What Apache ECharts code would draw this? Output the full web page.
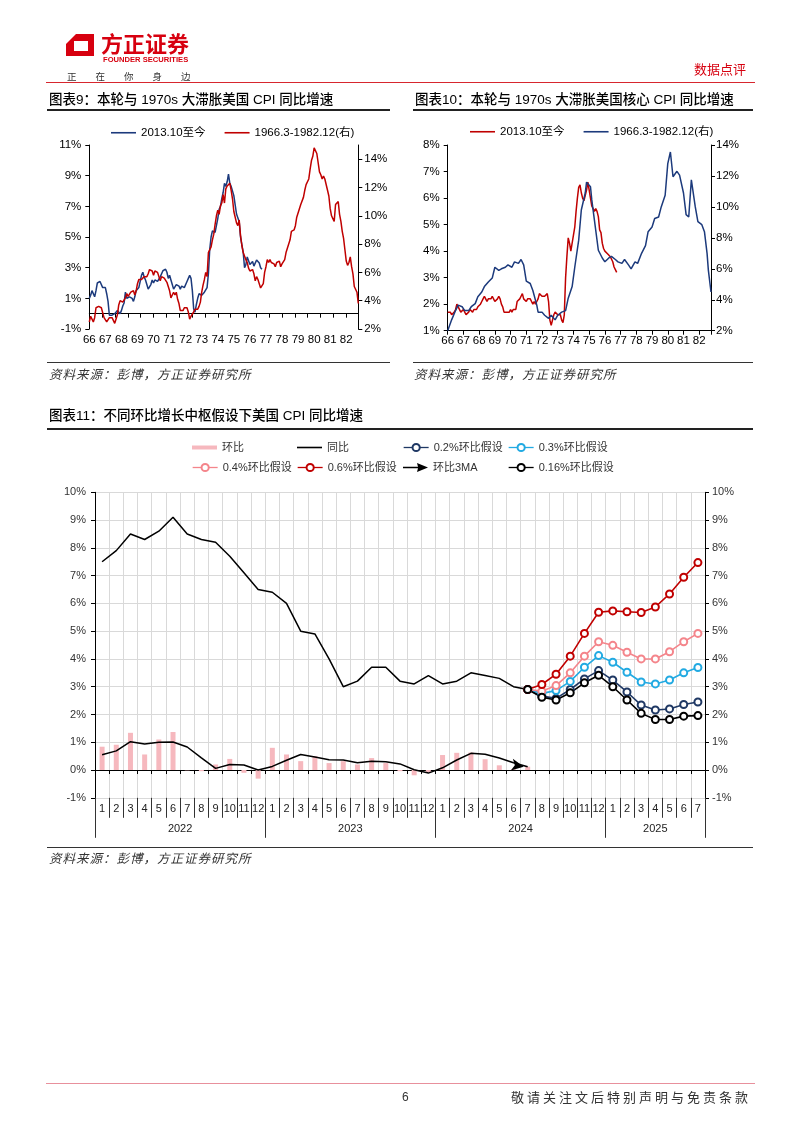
<!DOCTYPE html>
<html><head><meta charset="utf-8">
<script src="https://cdn.jsdelivr.net/npm/echarts@6/dist/echarts.min.js"></script>
<style>
html,body{margin:0;padding:0;background:#fff;}
#page{position:relative;width:802px;height:1133px;overflow:hidden;background:#fff;font-family:"Liberation Sans","Noto Sans CJK SC",sans-serif;}
#chart{position:absolute;left:0;top:0;width:802px;height:1133px;}
.t{position:absolute;white-space:nowrap;line-height:1;}
.hl{position:absolute;height:0;}
.title{font-size:13.5px;color:#000;font-weight:500;}
.src{font-size:12.5px;color:#333;font-style:italic;letter-spacing:1px;}
</style></head>
<body><div id="page">
<div id="chart"></div>
<svg class="t" style="left:0;top:0" width="120" height="70">
  <polygon points="66,56 66,44 76,34 94,34 94,56" fill="#D7000F"/>
  <polygon points="74,41 88,41 88,51 74,51" fill="#fff"/>
</svg>
<div class="t" style="left:101px;top:31px;font-size:22px;font-weight:bold;color:#D7000F;font-family:'Noto Sans CJK SC'">方正证券</div>
<div class="t" style="left:103px;top:55.5px;font-size:7.6px;font-weight:bold;color:#D7000F">FOUNDER SECURITIES</div>
<div class="t" style="left:67px;top:71.5px;font-size:9.5px;color:#333;letter-spacing:19px">正在你身边</div>
<div class="t" style="left:694px;top:63px;font-size:13px;color:#D7000F">数据点评</div>
<div class="hl" style="left:46px;top:82px;width:709px;border-top:1px solid #D7262E"></div>

<div class="t title" style="left:49px;top:93px">图表9：本轮与 1970s 大滞胀美国 CPI 同比增速</div>
<div class="hl" style="left:47px;top:108.5px;width:343px;border-top:2px solid #222"></div>
<div class="t title" style="left:415px;top:93px">图表10：本轮与 1970s 大滞胀美国核心 CPI 同比增速</div>
<div class="hl" style="left:413px;top:108.5px;width:340px;border-top:2px solid #222"></div>
<div class="hl" style="left:47px;top:362px;width:343px;border-top:1px solid #333"></div>
<div class="hl" style="left:413px;top:362px;width:340px;border-top:1px solid #333"></div>
<div class="t src" style="left:49px;top:369px">资料来源：彭博，方正证券研究所</div>
<div class="t src" style="left:414px;top:369px">资料来源：彭博，方正证券研究所</div>

<div class="t title" style="left:49px;top:409px">图表11：不同环比增长中枢假设下美国 CPI 同比增速</div>
<div class="hl" style="left:47px;top:427.5px;width:706px;border-top:2px solid #222"></div>
<div class="hl" style="left:47px;top:847px;width:706px;border-top:1px solid #333"></div>
<div class="t src" style="left:49px;top:853px">资料来源：彭博，方正证券研究所</div>

<div class="hl" style="left:46px;top:1083px;width:709px;border-top:1px solid #E8909C"></div>
<div class="t" style="left:402px;top:1091px;font-size:12px;color:#333">6</div>
<div class="t" style="left:511px;top:1090px;font-size:13px;color:#333;letter-spacing:3px;font-family:'Noto Sans CJK SC'">敬请关注文后特别声明与免责条款</div>
</div>
<script>
// ---------- Chart 9 / 10 data ----------
const histYearLabels = ['66','67','68','69','70','71','72','73','74','75','76','77','78','79','80','81','82'];
const names9 = ['2013.10至今', '1966.3-1982.12(右)'];
const names10 = {core2013: '2013.10至今', core1966: '1966.3-1982.12(右)'};

// US CPI YoY, 1966.3 - 1982.12 (monthly)
const cpiHist = [
  2.5,2.9,2.9,2.5,2.8,3.5,3.5,3.6,3.6,3.5,
  3.4,2.8,2.8,2.5,2.5,2.8,2.8,2.8,2.8,2.4,2.7,3.0,
  3.7,4.0,4.0,3.9,3.9,4.2,4.5,4.3,4.4,4.6,4.6,4.7,
  4.4,4.7,5.2,5.5,5.5,5.5,5.4,5.7,5.7,5.7,5.9,6.2,
  6.2,6.1,5.8,6.1,6.1,6.0,6.0,5.4,5.7,5.6,5.6,5.6,
  5.3,5.0,4.7,4.2,4.4,4.6,4.4,4.6,4.1,3.8,3.3,3.3,
  3.3,3.5,3.5,3.5,3.2,2.7,2.9,2.9,3.2,3.4,3.4,3.4,
  3.6,3.9,4.6,5.1,5.5,6.0,5.7,7.4,7.4,7.8,8.3,8.7,
  9.4,10.0,10.4,10.1,10.7,10.9,11.5,10.9,11.9,12.1,12.2,12.3,
  11.8,11.2,10.3,10.2,9.5,9.3,9.7,8.6,7.9,7.4,7.4,6.9,
  6.7,6.3,6.1,6.0,6.2,5.9,5.4,5.7,5.5,5.5,4.9,4.9,
  5.2,6.0,6.4,6.9,6.7,6.9,6.7,6.6,6.6,6.4,6.7,6.7,
  6.8,6.4,6.6,6.5,6.9,7.4,7.7,7.8,8.3,8.9,8.9,9.0,
  9.3,9.9,10.2,10.5,10.8,10.9,11.3,11.8,12.2,12.1,12.6,13.3,
  13.9,14.2,14.8,14.7,14.4,14.4,13.1,12.9,12.6,12.8,12.6,12.5,
  11.8,11.4,10.5,10.0,9.8,9.6,10.8,10.8,11.0,10.1,9.6,8.9,
  8.4,7.6,6.8,6.5,6.7,7.1,6.4,5.9,5.0,5.1,4.6,3.8
];
// US CPI YoY, 2013.10 - 2024.7 (monthly)
const cpiRecent = [
  1.0,1.2,1.5,
  1.6,1.1,1.5,2.0,2.1,2.1,2.0,1.7,1.7,1.7,1.3,0.8,
  -0.1,0.0,-0.1,-0.2,0.0,0.1,0.2,0.2,0.0,0.2,0.5,0.7,
  1.4,1.0,0.9,1.1,1.0,1.0,0.8,1.1,1.5,1.6,1.7,2.1,
  2.5,2.7,2.4,2.2,1.9,1.6,1.7,1.9,2.2,2.0,2.2,2.1,
  2.1,2.2,2.4,2.5,2.8,2.9,2.9,2.7,2.3,2.5,2.2,1.9,
  1.6,1.5,1.9,2.0,1.8,1.6,1.8,1.7,1.7,1.8,2.1,2.3,
  2.5,2.3,1.5,0.3,0.1,0.6,1.0,1.3,1.4,1.2,1.2,1.4,
  1.4,1.7,2.6,4.2,5.0,5.4,5.4,5.3,5.4,6.2,6.8,7.0,
  7.5,7.9,8.5,8.3,8.6,9.1,8.5,8.3,8.2,7.7,7.1,6.5,
  6.4,6.0,5.0,4.9,4.0,3.0,3.2,3.7,3.7,3.2,3.1,3.4,
  3.1,3.2,3.5,3.4,3.3,3.0,2.9
];
// US core CPI YoY, 2013.10 - 2024.7 (monthly)
const coreRecent = [
  1.7,1.7,1.7,
  1.6,1.6,1.7,1.8,2.0,1.9,1.9,1.7,1.7,1.8,1.7,1.6,
  1.6,1.7,1.8,1.8,1.7,1.8,1.8,1.8,1.9,1.9,2.0,2.1,
  2.2,2.3,2.2,2.1,2.2,2.2,2.2,2.3,2.2,2.1,2.1,2.2,
  2.3,2.2,2.0,1.9,1.7,1.7,1.7,1.7,1.7,1.8,1.7,1.8,
  1.8,1.8,2.1,2.1,2.2,2.3,2.4,2.2,2.2,2.1,2.2,2.2,
  2.2,2.1,2.0,2.1,2.0,2.1,2.2,2.4,2.4,2.3,2.3,2.3,
  2.3,2.4,2.1,1.4,1.2,1.2,1.6,1.7,1.7,1.6,1.6,1.6,
  1.4,1.3,1.6,3.0,3.8,4.5,4.3,4.0,4.0,4.6,4.9,5.5,
  6.0,6.4,6.5,6.2,6.0,5.9,5.9,6.3,6.6,6.3,6.0,5.7,
  5.6,5.5,5.6,5.5,5.3,4.8,4.7,4.3,4.1,4.0,4.0,3.9,
  3.9,3.8,3.8,3.6,3.4,3.3,3.2
];
// US core CPI YoY 1966.3 - 1982.12, read as [month index, value]
const coreHistPoints = [
  [0,2.0],[3,2.7],[6,3.3],[8,3.65],[11,3.55],[13,3.3],[16,3.3],[18,3.55],[21,3.75],[23,4.2],
  [26,4.5],[28,4.85],[31,5.15],[34,5.4],[36,6.1],[39,5.9],[41,6.0],[44,6.1],[46,6.25],[49,6.1],
  [51,6.45],[54,6.35],[56,6.6],[58,6.25],[60,5.2],[63,5.05],[65,4.6],[68,3.65],[69,3.2],[72,3.2],
  [74,3.0],[77,2.8],[79,3.0],[82,2.7],[84,3.0],[87,3.2],[90,3.3],[92,4.1],[95,4.85],[97,6.1],
  [100,7.85],[102,9.8],[105,10.9],[106,11.6],[107,11.5],[109,11.3],[110,10.45],[112,9.15],[115,7.2],[118,6.7],
  [120,6.45],[123,6.7],[125,6.8],[128,6.6],[130,6.45],[133,6.35],[135,6.6],[138,6.25],[140,6.0],[143,6.45],
  [145,6.35],[148,7.0],[151,7.5],[153,8.4],[156,8.7],[158,9.25],[161,9.35],[163,10.0],[166,10.75],[168,12.8],
  [170,13.55],[172,11.95],[175,12.3],[177,12.05],[180,10.9],[182,9.5],[184,9.35],[186,11.75],[187,11.85],[189,10.0],
  [191,9.05],[194,8.85],[196,8.4],[198,7.0],[199,5.9],[201,4.5]
];

// ---------- Chart 11 data ----------
const years = ['2022','2023','2024','2025'];
const monthsPerYear = [12,12,12,7];
const momNSA = [0.84,0.91,1.34,0.56,1.10,1.37,-0.01,-0.04,0.20,0.40,-0.10,-0.31,
                0.80,0.56,0.32,0.50,0.25,0.32,0.20,0.43,0.25,-0.04,-0.19,-0.10,
                0.54,0.62,0.63,0.39,0.17,0.03,0.12];
const yoy = [7.5,7.9,8.5,8.3,8.6,9.1,8.5,8.3,8.2,7.7,7.1,6.5,
             6.4,6.0,5.0,4.9,4.0,3.0,3.2,3.7,3.7,3.2,3.1,3.4,
             3.1,3.2,3.5,3.4,3.3,3.0,2.9];
const mom3ma = [0.55,0.69,1.02,0.94,1.00,1.01,0.83,0.44,0.06,0.20,0.18,0.00,
                0.13,0.35,0.56,0.47,0.37,0.36,0.26,0.32,0.30,0.22,0.01,-0.11,
                0.08,0.36,0.60,0.57,0.43,0.26,0.12];
const sc02  = [2.66,2.58,2.90,3.28,3.58,3.24,2.81,2.34,2.16,2.20,2.36,2.45];
const sc03  = [2.76,2.86,3.19,3.70,4.12,3.88,3.52,3.17,3.10,3.24,3.50,3.69];
const sc04  = [2.84,3.04,3.50,4.10,4.62,4.49,4.24,4.00,4.00,4.26,4.62,4.92];
const sc06  = [3.08,3.45,4.10,4.92,5.68,5.73,5.70,5.67,5.87,6.34,6.94,7.47];
const sc016 = [2.62,2.52,2.78,3.14,3.41,3.00,2.52,2.04,1.82,1.82,1.94,1.96];

// ---------- build ----------
const FONT = '"Liberation Sans","Noto Sans CJK SC",sans-serif';
const NAVY = '#1C3A7C', RED = '#C00000';
const idxPairs = arr => arr.map((v, i) => [i, v]);
const histMax = cpiHist.length - 1;

const categories = [];
years.forEach((y, k) => { for (let m = 1; m <= monthsPerYear[k]; m++) categories.push(y + '-' + m); });
const monthLabels = categories.map(c => c.split('-')[1]);
const yearGroups = [];
(function(){ let s = 0; years.forEach((y, k) => { yearGroups.push({label: y, center: s + monthsPerYear[k] / 2}); s += monthsPerYear[k]; }); })();
const nCat = categories.length;
const startIdx = yoy.length - 1;
const pad = new Array(startIdx).fill(null);

function histLabel(v) { return (v % 12 === 0 && histYearLabels[v / 12] !== undefined) ? histYearLabels[v / 12] : ''; }

const axisBlack = {show: true, onZero: false, lineStyle: {color: '#000', width: 1}};
function yAx(grid, pos, min, max, interval, margin, fs, color, split) {
  return {
    type: 'value', gridIndex: grid, position: pos, min, max, interval,
    axisLine: axisBlack,
    axisTick: {show: true, length: 4, lineStyle: {color: '#000'}},
    axisLabel: {formatter: '{value}%', fontSize: fs, color, margin, fontFamily: FONT, showMaxLabel: max === 15 ? false : true},
    splitLine: split ? {show: true, lineStyle: {color: '#D9D9D9', width: 1}} : {show: false}
  };
}

const lineIcon = 'path://M0,0H25V1.6H0Z';
const arrowIcon = 'path://M0,4.3L15,4.3L14,0.5L25,5L14,9.5L15,5.7L0,5.7Z';
const lg11 = (name, left, top, extra) => Object.assign({
  show: true, left, top, data: [name], itemWidth: 25, itemHeight: 9, selectedMode: false,
  textStyle: {fontSize: 11, color: '#333', fontFamily: FONT}, padding: 0,
  lineStyle: {width: 1.3}
}, extra || {});

function scenario(name, vals, color) {
  return {
    name, type: 'line', xAxisIndex: 3, yAxisIndex: 4,
    data: pad.concat([yoy[startIdx]], vals),
    symbol: 'emptyCircle', symbolSize: 7, showAllSymbol: true,
    lineStyle: {width: 1.6, color}, itemStyle: {color, borderWidth: 1.6}
  };
}

const option = {
  animation: false,
  backgroundColor: 'transparent',
  textStyle: {fontFamily: FONT},
  grid: [
    {left: 89.3, top: 145, width: 269, height: 184, containLabel: false, outerBoundsMode: 'none'},
    {left: 447.7, top: 145, width: 263.3, height: 185.7, containLabel: false, outerBoundsMode: 'none'},
    {left: 95, top: 492.3, width: 610, height: 305.5, containLabel: false, outerBoundsMode: 'none'}
  ],
  legend: [
    {left: 111, top: 127, data: names9, itemWidth: 25, itemHeight: 1.6, icon: lineIcon, itemGap: 19, selectedMode: false, padding: 0,
     textStyle: {fontSize: 11.5, color: '#000', fontFamily: FONT}},
    {left: 470, top: 126, data: ['core2013', 'core1966'], formatter: n => names10[n], itemWidth: 25, itemHeight: 1.6, icon: lineIcon, itemGap: 19, selectedMode: false, padding: 0,
     textStyle: {fontSize: 11.5, color: '#000', fontFamily: FONT}},
    lg11('环比', 192, 442, {icon: 'rect', itemHeight: 4}),
    lg11('同比', 297, 442, {icon: lineIcon, itemHeight: 1.6}),
    lg11('0.2%环比假设', 403, 442),
    lg11('0.3%环比假设', 508, 442),
    lg11('0.4%环比假设', 192, 462),
    lg11('0.6%环比假设', 297, 462),
    lg11('环比3MA', 403, 462, {icon: arrowIcon, itemHeight: 9}),
    lg11('0.16%环比假设', 508, 462)
  ],
  xAxis: [
    {type: 'value', gridIndex: 0, min: 0, max: histMax, interval: 9.6, position: 'bottom',
     axisLine: {show: true, onZero: true, lineStyle: {color: '#000'}},
     axisTick: {show: true, length: 4, lineStyle: {color: '#000'}},
     axisLabel: {show: false}, splitLine: {show: false}},
    {type: 'value', gridIndex: 0, min: 0, max: histMax, interval: 12, position: 'bottom',
     axisLine: {show: false, onZero: false}, axisTick: {show: false},
     axisLabel: {formatter: histLabel, fontSize: 11.5, color: '#000', margin: 5, fontFamily: FONT},
     splitLine: {show: false}},
    {type: 'value', gridIndex: 1, min: 0, max: histMax, interval: 12, position: 'bottom',
     axisLine: axisBlack, axisTick: {show: true, length: 4, lineStyle: {color: '#000'}},
     axisLabel: {formatter: histLabel, fontSize: 11.5, color: '#000', margin: 4, fontFamily: FONT},
     splitLine: {show: false}},
    {type: 'category', gridIndex: 2, data: categories, boundaryGap: true, position: 'bottom',
     axisLine: {show: true, onZero: true, lineStyle: {color: '#000'}},
     axisTick: {show: true, interval: 0, length: 4, lineStyle: {color: '#000'}},
     axisLabel: {show: false, interval: 0},
     splitLine: {show: true, interval: 0, lineStyle: {color: '#D9D9D9', width: 1}}},
    {type: 'category', gridIndex: 2, data: categories, boundaryGap: true, position: 'bottom',
     axisLine: {show: false, onZero: false},
     axisTick: {show: true, interval: 0, length: 20, lineStyle: {color: '#333'}},
     axisLabel: {interval: 0, formatter: (v, i) => monthLabels[i], fontSize: 11, color: '#222', margin: 6, fontFamily: FONT},
     splitLine: {show: false}},
    {type: 'value', gridIndex: 2, min: 0, max: nCat, interval: 12, position: 'bottom',
     axisLine: {show: false, onZero: false},
     axisTick: {show: true, length: 40, lineStyle: {color: '#333'}},
     axisLabel: {show: false}, splitLine: {show: false}},
    {type: 'value', gridIndex: 2, min: 0, max: nCat, interval: 0.5, position: 'bottom',
     axisLine: {show: false, onZero: false}, axisTick: {show: false},
     axisLabel: {formatter: v => { const g = yearGroups.find(g => Math.abs(g.center - v) < 1e-6); return g ? g.label : ''; },
                 fontSize: 11, color: '#222', margin: 26, fontFamily: FONT, showMinLabel: true, showMaxLabel: true},
     splitLine: {show: false}}
  ],
  yAxis: [
    yAx(0, 'left', -1, 11, 2, 8, 11.5, '#000', false),
    yAx(0, 'right', 2, 15, 2, 6, 11.5, '#000', false),
    yAx(1, 'left', 1, 8, 1, 8, 11.5, '#000', false),
    yAx(1, 'right', 2, 14, 2, 5, 11.5, '#000', false),
    yAx(2, 'left', -1, 10, 1, 9, 11, '#333', true),
    yAx(2, 'right', -1, 10, 1, 7, 11, '#333', false)
  ],
  series: [
    {name: names9[0], type: 'line', xAxisIndex: 0, yAxisIndex: 0, data: idxPairs(cpiRecent), symbol: 'none',
     lineStyle: {width: 1.5, color: NAVY}, itemStyle: {color: NAVY}},
    {name: names9[1], type: 'line', xAxisIndex: 0, yAxisIndex: 1, data: idxPairs(cpiHist), symbol: 'none',
     lineStyle: {width: 1.5, color: RED}, itemStyle: {color: RED}},
    {name: 'core2013', type: 'line', xAxisIndex: 2, yAxisIndex: 2, data: idxPairs(coreRecent), symbol: 'none',
     lineStyle: {width: 1.5, color: RED}, itemStyle: {color: RED}},
    {name: 'core1966', type: 'line', xAxisIndex: 2, yAxisIndex: 3, data: coreHistPoints, symbol: 'none',
     lineStyle: {width: 1.5, color: NAVY}, itemStyle: {color: NAVY}},
    {name: '环比', type: 'bar', xAxisIndex: 3, yAxisIndex: 4, data: momNSA, barWidth: 5,
     itemStyle: {color: '#F6B8BE'}},
    {name: '同比', type: 'line', xAxisIndex: 3, yAxisIndex: 4, data: yoy, symbol: 'none',
     lineStyle: {width: 1.5, color: '#000'}, itemStyle: {color: '#000'}},
    scenario('0.2%环比假设', sc02, '#1F3864'),
    scenario('0.3%环比假设', sc03, '#22AAE2'),
    scenario('0.4%环比假设', sc04, '#F4858B'),
    scenario('0.6%环比假设', sc06, '#C00000'),
    {name: '环比3MA', type: 'line', xAxisIndex: 3, yAxisIndex: 4, symbol: 'none', showAllSymbol: true,
     data: mom3ma.map((v, i) => i === mom3ma.length - 1
       ? {value: v, symbol: 'arrow', symbolSize: [9, 12], symbolRotate: -100, symbolOffset: [-4, 0], itemStyle: {color: '#000'}}
       : v),
     lineStyle: {width: 1.5, color: '#000'}, itemStyle: {color: '#000'}},
    scenario('0.16%环比假设', sc016, '#000000')
  ]
};

const chart = echarts.init(document.getElementById('chart'), null, {renderer: 'canvas', width: 802, height: 1133});
chart.setOption(option);
</script>
</body></html>
